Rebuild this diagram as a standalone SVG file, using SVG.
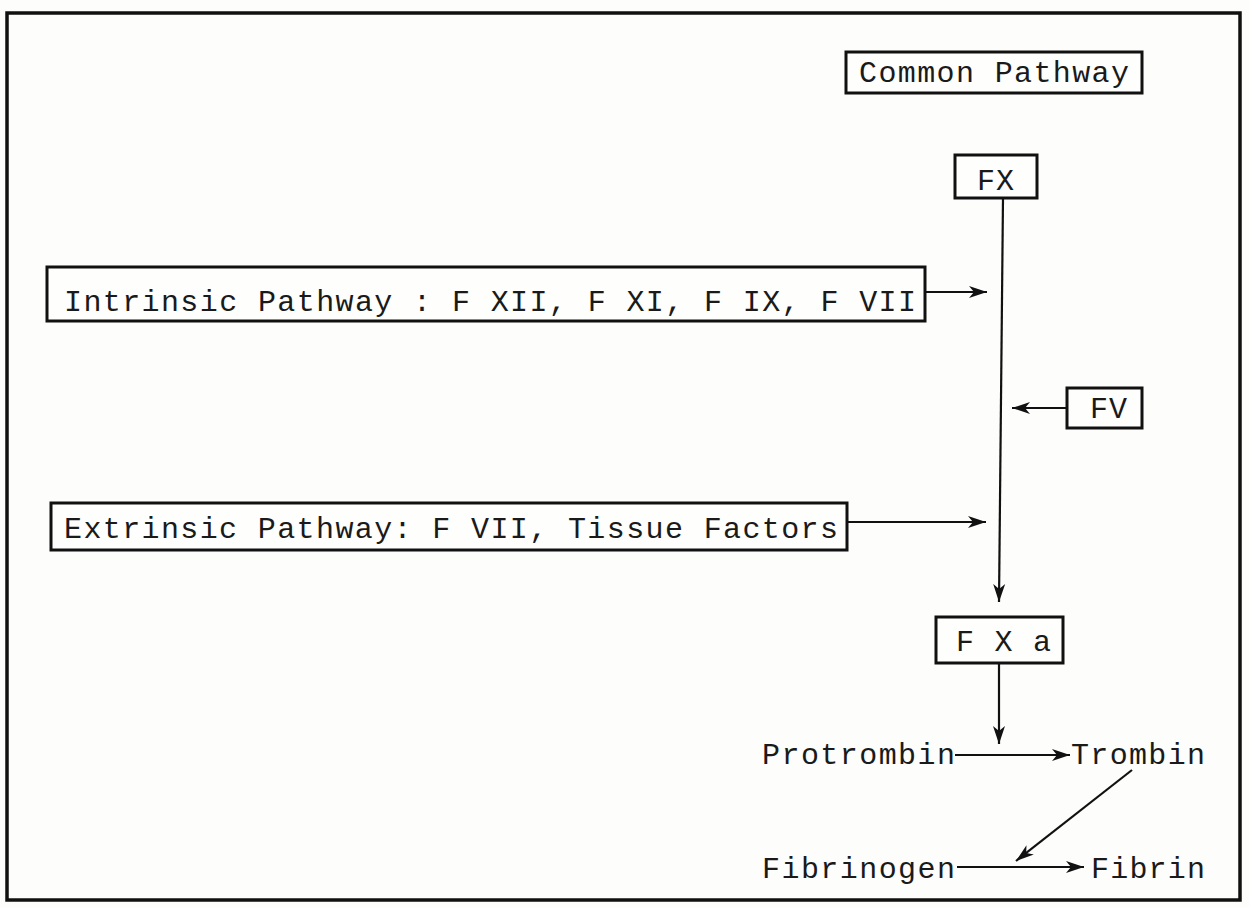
<svg xmlns="http://www.w3.org/2000/svg" width="1250" height="907" viewBox="0 0 1250 907">
<style>
.box{fill:#fefefd;stroke:#111;stroke-width:3}
.t{font-family:"Liberation Mono","Courier New",monospace;font-size:30px;fill:#1a1a1a}
.c{stroke:#111;stroke-width:2.2;fill:none}
</style>
<defs>
<marker id="ah" markerUnits="userSpaceOnUse" markerWidth="20" markerHeight="14" refX="18" refY="7" orient="auto">
<path d="M0,1 L18,7 L0,13 L5,7 Z" fill="#111"/>
</marker>
</defs>
<rect x="0" y="0" width="1250" height="907" fill="#fdfdfb"/>
<rect id="frame" x="7" y="13" width="1233" height="887" fill="none" stroke="#111" stroke-width="3.5"/>
<g id="common">
<rect class="box" x="846" y="52" width="296" height="41"/>
<text class="t" x="859" y="82" textLength="270" lengthAdjust="spacing">Common Pathway</text>
</g>
<g id="fx">
<rect class="box" x="955" y="155" width="82" height="43"/>
<text class="t" x="996" y="190" text-anchor="middle" letter-spacing="1">FX</text>
</g>
<g id="intrinsic">
<rect class="box" x="47" y="267" width="878" height="54"/>
<text class="t" x="64" y="311" textLength="852" lengthAdjust="spacing">Intrinsic Pathway : F XII, F XI, F IX, F VII</text>
</g>
<g id="fv">
<rect class="box" x="1067" y="388" width="75" height="40"/>
<text class="t" x="1109" y="418" text-anchor="middle" letter-spacing="1">FV</text>
</g>
<g id="extrinsic">
<rect class="box" x="51" y="503" width="796" height="47"/>
<text class="t" x="64" y="538" textLength="774" lengthAdjust="spacing">Extrinsic Pathway: F VII, Tissue Factors</text>
</g>
<g id="fxa">
<rect class="box" x="936" y="617" width="127" height="46"/>
<text class="t" x="956" y="651" textLength="95" lengthAdjust="spacing">F X a</text>
</g>
<g id="protrombin"><text class="t" x="762" y="764" textLength="193" lengthAdjust="spacing">Protrombin</text></g>
<g id="trombin"><text class="t" x="1071" y="764" textLength="134" lengthAdjust="spacing">Trombin</text></g>
<g id="fibrinogen"><text class="t" x="762" y="878" textLength="193" lengthAdjust="spacing">Fibrinogen</text></g>
<g id="fibrin"><text class="t" x="1091" y="878" textLength="114" lengthAdjust="spacing">Fibrin</text></g>
<g id="connectors">
<line class="c" x1="1003" y1="198" x2="999" y2="602" marker-end="url(#ah)"/>
<line class="c" x1="925" y1="292" x2="987" y2="292" marker-end="url(#ah)"/>
<line class="c" x1="1067" y1="408" x2="1012" y2="408" marker-end="url(#ah)"/>
<line class="c" x1="847" y1="522" x2="986" y2="522" marker-end="url(#ah)"/>
<line class="c" x1="999" y1="663" x2="999" y2="744" marker-end="url(#ah)"/>
<line class="c" x1="955" y1="755" x2="1070" y2="755" marker-end="url(#ah)"/>
<line class="c" x1="1132" y1="770" x2="1016" y2="861" marker-end="url(#ah)"/>
<line class="c" x1="957" y1="867" x2="1084" y2="867" marker-end="url(#ah)"/>
</g>
</svg>
